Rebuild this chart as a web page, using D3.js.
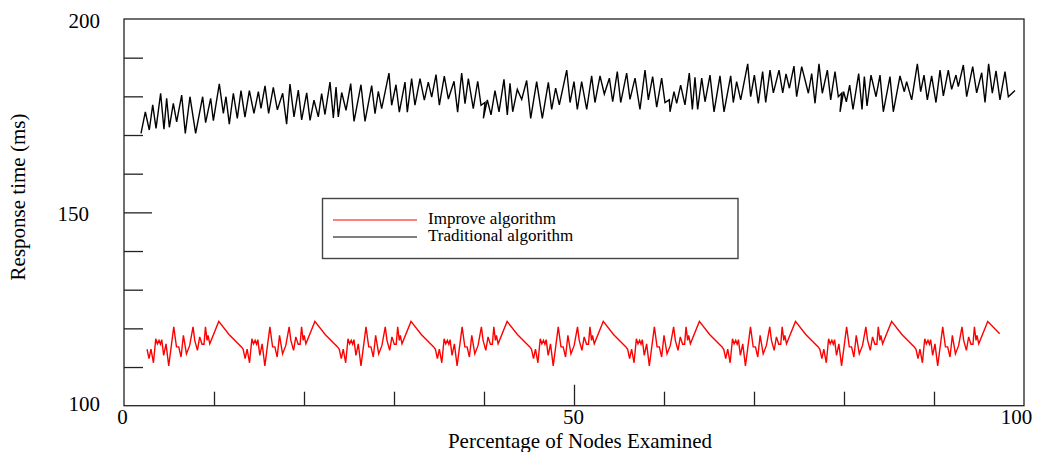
<!DOCTYPE html>
<html>
<head>
<meta charset="utf-8">
<script src="https://cdn.jsdelivr.net/npm/d3@7"></script>
<style>
  html, body { margin: 0; padding: 0; background: #fff; }
  svg { display: block; }
  text { font-family: "Liberation Serif", "Times New Roman", serif; fill: #000; }
</style>
</head>
<body>
<svg id="chart" width="1041" height="452"></svg>
<script>
// ---------------- DATA ----------------
const seriesNames = ["Improve algorithm", "Traditional algorithm"];
const xTickLabels = [0, 50, 100];
const yTickLabels = [100, 150, 200];
const xMinorTicks = [10, 20, 30, 40, 60, 70, 80, 90];
const xMajorTicks = [50];
const yMinorTicks = [110, 120, 130, 140, 160, 170, 180, 190];
const yMajorTicks = [150];

const improveX = [
  2.56, 2.78, 3.00, 3.27, 3.53, 3.71, 3.89, 4.05, 4.19, 4.41, 4.67, 4.97, 5.53, 5.83, 6.08, 6.34, 6.60, 6.94, 7.30, 7.67, 7.86, 8.16, 8.41, 8.67, 8.89, 9.05, 9.23, 9.34, 9.53, 10.53, 11.67, 13.05,
  13.24, 13.46, 13.68, 13.95, 14.21, 14.39, 14.57, 14.73, 14.87, 15.09, 15.35, 15.65, 16.21, 16.51, 16.76, 17.02, 17.28, 17.62, 17.98, 18.35, 18.54, 18.84, 19.09, 19.35, 19.57, 19.73, 19.91, 20.02, 20.21, 21.21, 22.35, 23.73,
  23.92, 24.14, 24.36, 24.63, 24.89, 25.07, 25.25, 25.41, 25.55, 25.77, 26.03, 26.33, 26.89, 27.19, 27.44, 27.70, 27.96, 28.30, 28.66, 29.03, 29.22, 29.52, 29.77, 30.03, 30.25, 30.41, 30.59, 30.70, 30.89, 31.89, 33.03, 34.41,
  34.60, 34.82, 35.04, 35.31, 35.57, 35.75, 35.93, 36.09, 36.23, 36.45, 36.71, 37.01, 37.57, 37.87, 38.12, 38.38, 38.64, 38.98, 39.34, 39.71, 39.90, 40.20, 40.45, 40.71, 40.93, 41.09, 41.27, 41.38, 41.57, 42.57, 43.71, 45.09,
  45.28, 45.50, 45.72, 45.99, 46.25, 46.43, 46.61, 46.77, 46.91, 47.13, 47.39, 47.69, 48.25, 48.55, 48.80, 49.06, 49.32, 49.66, 50.02, 50.39, 50.58, 50.88, 51.13, 51.39, 51.61, 51.77, 51.95, 52.06, 52.25, 53.25, 54.39, 55.77,
  55.96, 56.18, 56.40, 56.67, 56.93, 57.11, 57.29, 57.45, 57.59, 57.81, 58.07, 58.37, 58.93, 59.23, 59.48, 59.74, 60.00, 60.34, 60.70, 61.07, 61.26, 61.56, 61.81, 62.07, 62.29, 62.45, 62.63, 62.74, 62.93, 63.93, 65.07, 66.45,
  66.64, 66.86, 67.08, 67.35, 67.61, 67.79, 67.97, 68.13, 68.27, 68.49, 68.75, 69.05, 69.61, 69.91, 70.16, 70.42, 70.68, 71.02, 71.38, 71.75, 71.94, 72.24, 72.49, 72.75, 72.97, 73.13, 73.31, 73.42, 73.61, 74.61, 75.75, 77.13,
  77.32, 77.54, 77.76, 78.03, 78.29, 78.47, 78.65, 78.81, 78.95, 79.17, 79.43, 79.73, 80.29, 80.59, 80.84, 81.10, 81.36, 81.70, 82.06, 82.43, 82.62, 82.92, 83.17, 83.43, 83.65, 83.81, 83.99, 84.10, 84.29, 85.29, 86.43, 87.81,
  88.00, 88.22, 88.44, 88.71, 88.97, 89.15, 89.33, 89.49, 89.63, 89.85, 90.11, 90.41, 90.97, 91.27, 91.52, 91.78, 92.04, 92.38, 92.74, 93.11, 93.30, 93.60, 93.85, 94.11, 94.33, 94.49, 94.67, 94.78, 94.97, 95.97, 97.30
];
const improveY = [
  114.6, 112.2, 114.6, 111.1, 117.3, 116.0, 116.9, 115.9, 117.1, 113.0, 116.0, 110.3, 120.4, 115.2, 115.2, 112.6, 118.2, 113.4, 115.6, 120.4, 116.9, 114.3, 117.8, 115.9, 115.9, 120.4, 116.9, 118.2, 116.0, 121.8, 118.4, 115.2,
  114.6, 112.2, 114.6, 111.1, 117.3, 116.0, 116.9, 115.9, 117.1, 113.0, 116.0, 110.3, 120.4, 115.2, 115.2, 112.6, 118.2, 113.4, 115.6, 120.4, 116.9, 114.3, 117.8, 115.9, 115.9, 120.4, 116.9, 118.2, 116.0, 121.8, 118.4, 115.2,
  114.6, 112.2, 114.6, 111.1, 117.3, 116.0, 116.9, 115.9, 117.1, 113.0, 116.0, 110.3, 120.4, 115.2, 115.2, 112.6, 118.2, 113.4, 115.6, 120.4, 116.9, 114.3, 117.8, 115.9, 115.9, 120.4, 116.9, 118.2, 116.0, 121.8, 118.4, 115.2,
  114.6, 112.2, 114.6, 111.1, 117.3, 116.0, 116.9, 115.9, 117.1, 113.0, 116.0, 110.3, 120.4, 115.2, 115.2, 112.6, 118.2, 113.4, 115.6, 120.4, 116.9, 114.3, 117.8, 115.9, 115.9, 120.4, 116.9, 118.2, 116.0, 121.8, 118.4, 115.2,
  114.6, 112.2, 114.6, 111.1, 117.3, 116.0, 116.9, 115.9, 117.1, 113.0, 116.0, 110.3, 120.4, 115.2, 115.2, 112.6, 118.2, 113.4, 115.6, 120.4, 116.9, 114.3, 117.8, 115.9, 115.9, 120.4, 116.9, 118.2, 116.0, 121.8, 118.4, 115.2,
  114.6, 112.2, 114.6, 111.1, 117.3, 116.0, 116.9, 115.9, 117.1, 113.0, 116.0, 110.3, 120.4, 115.2, 115.2, 112.6, 118.2, 113.4, 115.6, 120.4, 116.9, 114.3, 117.8, 115.9, 115.9, 120.4, 116.9, 118.2, 116.0, 121.8, 118.4, 115.2,
  114.6, 112.2, 114.6, 111.1, 117.3, 116.0, 116.9, 115.9, 117.1, 113.0, 116.0, 110.3, 120.4, 115.2, 115.2, 112.6, 118.2, 113.4, 115.6, 120.4, 116.9, 114.3, 117.8, 115.9, 115.9, 120.4, 116.9, 118.2, 116.0, 121.8, 118.4, 115.2,
  114.6, 112.2, 114.6, 111.1, 117.3, 116.0, 116.9, 115.9, 117.1, 113.0, 116.0, 110.3, 120.4, 115.2, 115.2, 112.6, 118.2, 113.4, 115.6, 120.4, 116.9, 114.3, 117.8, 115.9, 115.9, 120.4, 116.9, 118.2, 116.0, 121.8, 118.4, 115.2,
  114.6, 112.2, 114.6, 111.1, 117.3, 116.0, 116.9, 115.9, 117.1, 113.0, 116.0, 110.3, 120.4, 115.2, 115.2, 112.6, 118.2, 113.4, 115.6, 120.4, 116.9, 114.3, 117.8, 115.9, 115.9, 120.4, 116.9, 118.2, 116.0, 121.8, 118.6
];

const traditionalX = [
  1.89, 2.37, 2.81, 3.19, 3.56, 4.07, 4.44, 4.74, 5.04, 5.48, 5.85, 6.41, 6.81, 7.33, 7.96, 8.74, 9.07, 9.63, 9.93, 10.59,
  11.04, 11.33, 11.70, 12.15, 12.59, 13.00, 13.44, 13.93, 14.44, 14.93, 15.22, 15.67, 16.07, 16.59, 17.04, 17.63, 18.07, 18.44, 18.89, 19.37,
  19.74, 20.30, 20.67, 21.11, 21.59, 21.96, 22.33, 22.89, 23.26, 23.56, 23.81, 24.19, 24.67, 25.19, 25.56, 26.33, 26.78, 27.52, 27.89, 28.26,
  28.63, 29.44, 29.74, 30.22, 30.59, 31.22, 31.48, 31.96, 32.33, 32.89, 33.37, 33.81, 34.19, 34.67, 35.04, 35.59, 36.04, 36.67, 37.07, 37.52,
  37.89, 38.26, 38.81, 39.30, 39.67, 40.11, 39.93, 40.37, 40.78, 41.22, 41.67, 42.22, 42.59, 42.89, 43.19, 43.70, 44.19, 44.74, 45.19, 45.85,
  46.48, 47.15, 47.52, 47.96, 48.37, 49.19, 49.56, 50.00, 50.37, 50.85, 51.41, 51.96, 52.33, 52.89, 53.37, 53.93, 54.30, 54.81, 55.19, 55.85,
  56.22, 56.78, 57.33, 57.89, 58.26, 58.74, 59.19, 59.74, 60.11, 60.59, 60.67, 61.11, 61.41, 61.85, 62.33, 62.81, 63.15, 63.44, 63.74, 64.19,
  64.56, 65.11, 65.56, 66.22, 66.67, 67.41, 67.70, 68.07, 68.52, 69.30, 69.63, 70.04, 70.48, 70.96, 71.30, 71.78, 72.15, 72.78, 73.19, 73.56,
  73.93, 74.44, 74.74, 75.30, 76.04, 76.41, 76.78, 77.22, 77.59, 78.15, 78.52, 79.00, 79.37, 79.74, 79.56, 79.96, 80.26, 80.63, 81.00, 81.63,
  82.00, 82.26, 82.56, 83.00, 83.56, 84.00, 84.37, 85.11, 85.48, 86.22, 86.70, 86.96, 87.52, 88.15, 88.52, 88.89, 89.26, 89.74, 90.22, 90.67,
  91.04, 91.59, 91.96, 92.44, 92.70, 93.26, 93.63, 94.30, 94.74, 95.30, 95.67, 96.07, 96.48, 96.89, 97.33, 97.89, 98.26, 99.00
];
const traditionalY = [
  170.4, 176.0, 171.3, 177.8, 171.7, 180.8, 171.5, 179.5, 172.0, 178.2, 173.4, 180.3, 170.4, 179.9, 170.4, 179.9, 173.2, 179.5, 173.7, 183.2,
  175.6, 179.9, 172.8, 180.8, 174.3, 181.5, 174.6, 181.5, 175.6, 181.2, 176.9, 182.7, 175.6, 182.3, 176.5, 180.8, 172.8, 183.2, 174.7, 181.6,
  173.9, 180.9, 173.8, 179.0, 174.7, 180.7, 175.3, 183.7, 174.4, 182.4, 174.7, 181.0, 176.4, 183.3, 173.5, 183.0, 173.5, 182.8, 175.5, 181.3,
  176.8, 186.0, 177.7, 183.0, 175.9, 183.7, 175.9, 184.6, 177.7, 184.6, 179.0, 183.7, 179.8, 185.6, 177.7, 185.2, 179.3, 183.9, 175.9, 186.0,
  178.1, 184.6, 176.8, 183.9, 177.7, 178.4, 174.3, 179.1, 175.2, 181.5, 176.0, 184.4, 175.2, 183.4, 176.0, 181.8, 179.2, 184.1, 174.3, 183.8,
  174.3, 183.6, 176.6, 182.1, 177.8, 186.8, 178.4, 183.8, 176.6, 183.8, 176.6, 185.3, 178.4, 185.3, 180.6, 184.7, 178.6, 186.4, 178.4, 186.0,
  179.2, 184.7, 176.6, 186.8, 179.1, 185.1, 177.2, 184.7, 178.4, 179.1, 176.0, 181.2, 178.2, 182.9, 177.8, 186.0, 176.6, 184.9, 176.6, 184.7,
  178.6, 185.5, 176.0, 185.3, 176.0, 185.3, 178.4, 183.8, 179.1, 188.4, 179.9, 185.5, 178.2, 186.4, 178.4, 186.8, 180.9, 186.8, 180.9, 185.8,
  182.1, 187.8, 179.9, 187.7, 180.8, 185.9, 178.2, 188.4, 180.8, 186.8, 179.1, 186.4, 179.9, 180.8, 176.0, 181.2, 178.6, 182.9, 176.6, 185.9,
  176.6, 185.1, 177.5, 185.5, 179.9, 185.5, 176.0, 185.1, 176.0, 185.3, 181.2, 183.8, 179.1, 188.4, 181.2, 185.5, 179.1, 185.3, 178.4, 186.8,
  180.1, 186.8, 181.8, 185.5, 182.5, 188.1, 179.9, 187.7, 180.9, 186.1, 178.4, 188.4, 180.8, 186.6, 179.1, 186.4, 179.9, 181.5
];

const xTitle = "Percentage of Nodes Examined";
const yTitle = "Response time (ms)";
const seriesColors = ["#ff0000", "#000000"];

// ---------------- CHART ----------------
const svg = d3.select("#chart");
const plotLeft = 124, plotRight = 1024, plotTop = 19, plotBottom = 405.7;

const x = d3.scaleLinear().domain([0, 100]).range([plotLeft, plotRight]);
const y = d3.scaleLinear().domain([100, 200]).range([plotBottom, plotTop]);

const axisColor = "#222";

// Frame
svg.append("rect")
  .attr("x", plotLeft).attr("y", plotTop)
  .attr("width", plotRight - plotLeft).attr("height", plotBottom - plotTop)
  .attr("fill", "none").attr("stroke", axisColor).attr("stroke-width", 1.3);

function styleAxis(g) {
  g.select(".domain").remove();
  g.selectAll(".tick line").attr("stroke", axisColor).attr("stroke-width", 1.3);
}

// Y ticks (inward)
svg.append("g").attr("transform", `translate(${plotLeft},0)`)
  .call(d3.axisRight(y).tickValues(yMinorTicks).tickSize(19).tickFormat(""))
  .call(styleAxis);
svg.append("g").attr("transform", `translate(${plotLeft},0)`)
  .call(d3.axisRight(y).tickValues(yMajorTicks).tickSize(28).tickFormat(""))
  .call(styleAxis);

// X ticks (inward, upward)
svg.append("g").attr("transform", `translate(0,${plotBottom})`)
  .call(d3.axisTop(x).tickValues(xMinorTicks).tickSize(14).tickFormat(""))
  .call(styleAxis);
svg.append("g").attr("transform", `translate(0,${plotBottom})`)
  .call(d3.axisTop(x).tickValues(xMajorTicks).tickSize(21).tickFormat(""))
  .call(styleAxis);

// Y labels
const yLab = svg.append("g").attr("transform", `translate(${plotLeft},0)`)
  .call(d3.axisLeft(y).tickValues(yTickLabels).tickSize(0).tickPadding(24));
yLab.select(".domain").remove();
yLab.selectAll("text")
  .attr("font-family", "Liberation Serif, serif")
  .attr("font-size", 21)
  .attr("fill", "#000")
  .attr("dy", d => d === 100 ? "0.22em" : "0.4em")
  .attr("dx", d => d === 150 ? -11 : 0);

// X labels
const xLab = svg.append("g").attr("transform", `translate(0,${plotBottom})`)
  .call(d3.axisBottom(x).tickValues(xTickLabels).tickSize(0).tickPadding(3));
xLab.select(".domain").remove();
xLab.selectAll("text")
  .attr("font-family", "Liberation Serif, serif")
  .attr("font-size", 21)
  .attr("fill", "#000")
  .attr("dx", d => d === 0 ? -2 : d === 50 ? -1 : -8);

// Axis titles
svg.append("text")
  .attr("x", 580).attr("y", 448)
  .attr("text-anchor", "middle")
  .attr("font-size", 21)
  .text(xTitle);

svg.append("text")
  .attr("transform", `translate(25,197) rotate(-90)`)
  .attr("text-anchor", "middle")
  .attr("font-size", 21)
  .text(yTitle);

// Lines
const line = d3.line().x(d => x(d[0])).y(d => y(d[1]));
const improveData = improveX.map((v, i) => [v, improveY[i]]);
const traditionalData = traditionalX.map((v, i) => [v, traditionalY[i]]);

svg.append("path").datum(improveData)
  .attr("d", line).attr("fill", "none")
  .attr("stroke", seriesColors[0]).attr("stroke-width", 1.4)
  .attr("stroke-linejoin", "miter");
svg.append("path").datum(traditionalData)
  .attr("d", line).attr("fill", "none")
  .attr("stroke", seriesColors[1]).attr("stroke-width", 1.4)
  .attr("stroke-linejoin", "miter");

// Legend
const lg = svg.append("g");
lg.append("rect")
  .attr("x", 322.5).attr("y", 198.5).attr("width", 415.5).attr("height", 60)
  .attr("fill", "#fff").attr("stroke", "#444").attr("stroke-width", 1.4);
seriesNames.forEach((name, i) => {
  const ly = 220 + i * 17;
  lg.append("line")
    .attr("x1", 333).attr("x2", 417).attr("y1", ly).attr("y2", ly)
    .attr("stroke", seriesColors[i]).attr("stroke-width", 1.2);
  lg.append("text")
    .attr("x", 428).attr("y", ly + 4)
    .attr("font-size", 17)
    .text(name);
});
</script>
</body>
</html>
